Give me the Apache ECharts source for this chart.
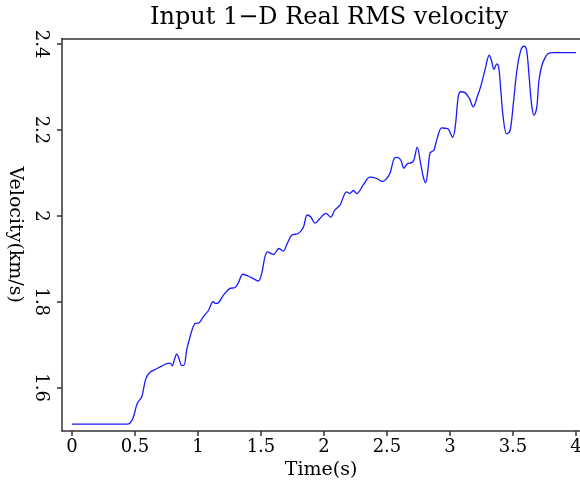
<!DOCTYPE html>
<html>
<head>
<meta charset="utf-8">
<script src="https://cdn.jsdelivr.net/npm/echarts@6/dist/echarts.min.js"></script>
<style>html,body{margin:0;padding:0;background:#fff;}#c{width:580px;height:481px;}</style>
</head>
<body>
<div id="c"></div>
<script>
const titleText = "Input 1\u2212D Real RMS velocity";
const xName = "Time(s)";
const yName = "Velocity(km/s)";
const xTicks = [0, 0.5, 1, 1.5, 2, 2.5, 3, 3.5, 4];
const yTicks = [1.6, 1.8, 2, 2.2, 2.4];
const timeS = [0,0.434,0.460,0.487,0.518,0.553,0.566,0.587,0.619,0.672,0.712,0.752,0.778,0.796,0.812,0.831,0.849,0.871,0.889,0.910,0.937,0.976,1.010,1.042,1.082,1.121,1.143,1.161,1.201,1.254,1.294,1.320,1.357,1.399,1.439,1.479,1.506,1.532,1.553,1.598,1.643,1.677,1.709,1.744,1.796,1.836,1.867,1.894,1.929,1.968,2.016,2.053,2.087,2.127,2.180,2.206,2.233,2.260,2.312,2.365,2.418,2.466,2.498,2.524,2.558,2.583,2.609,2.635,2.661,2.696,2.714,2.740,2.767,2.788,2.807,2.825,2.841,2.857,2.873,2.899,2.934,2.960,2.987,3.021,3.042,3.066,3.085,3.119,3.153,3.185,3.217,3.244,3.278,3.312,3.331,3.349,3.371,3.387,3.402,3.423,3.450,3.476,3.502,3.524,3.542,3.569,3.590,3.609,3.629,3.648,3.667,3.688,3.706,3.728,3.754,3.780,3.817,4.0];
const velocity = [1.515,1.515,1.517,1.531,1.563,1.578,1.594,1.621,1.636,1.644,1.650,1.656,1.657,1.651,1.664,1.678,1.668,1.652,1.652,1.687,1.718,1.749,1.751,1.765,1.779,1.800,1.796,1.797,1.815,1.831,1.833,1.844,1.864,1.860,1.854,1.848,1.866,1.905,1.916,1.910,1.924,1.918,1.936,1.955,1.959,1.973,2.002,1.998,1.983,1.994,2.006,1.997,2.014,2.025,2.056,2.052,2.059,2.052,2.072,2.090,2.087,2.080,2.087,2.099,2.134,2.136,2.130,2.111,2.121,2.124,2.130,2.160,2.122,2.091,2.077,2.107,2.146,2.150,2.153,2.181,2.205,2.204,2.202,2.183,2.208,2.278,2.289,2.287,2.274,2.254,2.278,2.301,2.340,2.374,2.360,2.341,2.354,2.345,2.298,2.228,2.191,2.197,2.259,2.321,2.360,2.391,2.395,2.384,2.321,2.259,2.234,2.251,2.314,2.349,2.368,2.378,2.380,2.380];

const seriesData = timeS.map((t, i) => [t, velocity[i]]);
const FONT = "DejaVu Serif";
const axisCol = "#333";
const chart = echarts.init(document.getElementById('c'), null, {renderer: 'canvas'});
chart.setOption({
  animation: false,
  backgroundColor: '#fff',
  title: {
    text: titleText, left: 324, top: 1, textAlign: 'center',
    textStyle: {fontFamily: FONT, fontSize: 24, fontWeight: 'normal', color: '#000'}
  },
  grid: {left: 62, right: 0, top: 38.5, bottom: 50, containLabel: false, outerBoundsMode: 'none'},
  xAxis: [{
    type: 'value', min: -0.079, max: 4.032,
    name: xName, nameLocation: 'middle', nameGap: 27,
    nameTextStyle: {fontFamily: FONT, fontSize: 19, color: '#000'},
    axisLine: {show: true, onZero: false, lineStyle: {color: axisCol, width: 1.5}},
    axisTick: {show: true, length: 5, lineStyle: {color: axisCol, width: 1.5},
      customValues: xTicks},
    axisLabel: {fontFamily: FONT, fontSize: 18, color: '#000', margin: 7,
      customValues: xTicks, formatter: v => String(v)},
    splitLine: {show: false}
  }, {
    type: 'value', position: 'top', min: -0.079, max: 4.032,
    axisLine: {show: true, onZero: false, lineStyle: {color: axisCol, width: 1.5}},
    axisTick: {show: false}, axisLabel: {show: false}, splitLine: {show: false}
  }],
  yAxis: {
    type: 'value', min: 1.499, max: 2.413,
    name: yName, nameLocation: 'middle', nameGap: 36, nameRotate: -90,
    nameTextStyle: {fontFamily: FONT, fontSize: 19, color: '#000'},
    axisLine: {show: true, onZero: false, lineStyle: {color: axisCol, width: 1.5}},
    axisTick: {show: true, length: 5, lineStyle: {color: axisCol, width: 1.5},
      customValues: yTicks},
    axisLabel: {fontFamily: FONT, fontSize: 18, color: '#000', margin: 12, rotate: -90,
      customValues: yTicks, formatter: v => String(v)},
    splitLine: {show: false}
  },
  series: [{
    type: 'line', xAxisIndex: 0, data: seriesData, showSymbol: false, smooth: 0.35,
    lineStyle: {color: '#1a1aff', width: 1.3}
  }]
});
</script>
</body>
</html>
